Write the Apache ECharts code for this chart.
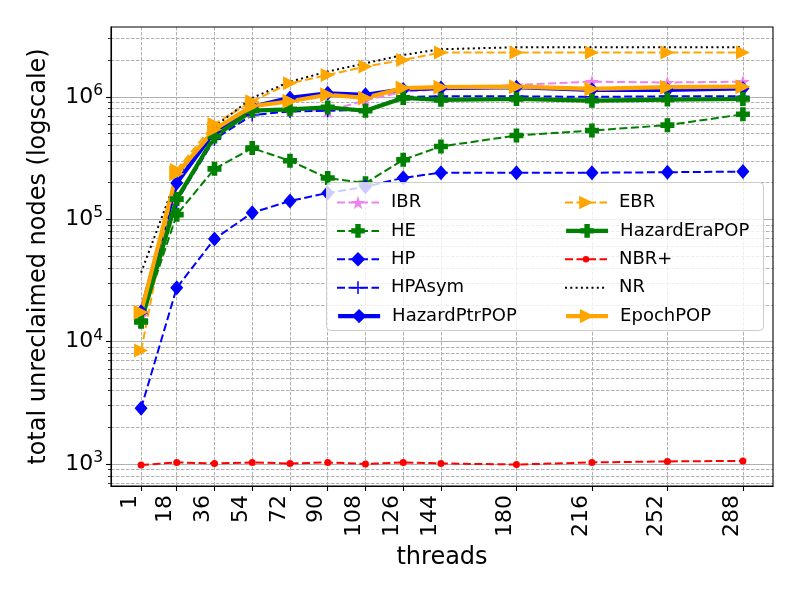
<!DOCTYPE html>
<html>
<head>
<meta charset="utf-8">
<script src="https://cdn.jsdelivr.net/npm/echarts@6/dist/echarts.min.js"></script>
<style>
  html, body { margin: 0; padding: 0; background: #fff; }
  #chart { width: 800px; height: 600px; }
</style>
</head>
<body>
<div id="chart"></div>
<script>
// thread counts on the x axis
const threads = [1, 18, 36, 54, 72, 90, 108, 126, 144, 180, 216, 252, 288];
const xTicks = [1, 18, 36, 54, 72, 90, 108, 126, 144, 180, 216, 252, 288];
const yTicks = [1e3, 1e4, 1e5, 1e6];

// total unreclaimed nodes
const ibr = [16000, 150000, 490000, 750000, 800000, 760000, 940000, 1100000, 1150000, 1250000, 1330000, 1310000, 1330000];
const he = [14700, 109000, 258000, 381000, 300000, 217000, 197000, 306000, 393000, 483000, 530000, 587000, 720000];
const hp = [2850, 27500, 69000, 113000, 141000, 164000, 184000, 218000, 240000, 240000, 240000, 242000, 245000];
const hpAsym = [17000, 140000, 450000, 710000, 760000, 770000, 780000, 1000000, 1010000, 1010000, 1000000, 1010000, 1010000];
const hazardPtrPop = [17500, 198000, 520000, 830000, 980000, 1070000, 1040000, 1150000, 1180000, 1200000, 1140000, 1140000, 1170000];
const ebr = [8450, 253000, 600000, 920000, 1290000, 1510000, 1770000, 2000000, 2300000, 2300000, 2300000, 2300000, 2300000];
const hazardEraPop = [14500, 146000, 474000, 770000, 790000, 820000, 770000, 980000, 945000, 960000, 930000, 950000, 960000];
const nbrPlus = [980, 1030, 1010, 1030, 1010, 1030, 1000, 1030, 1010, 990, 1030, 1050, 1060];
const nr = [36600, 220000, 570000, 980000, 1330000, 1610000, 1880000, 2200000, 2450000, 2540000, 2540000, 2540000, 2540000];
const epochPop = [17400, 235000, 540000, 840000, 920000, 1040000, 980000, 1180000, 1200000, 1210000, 1160000, 1200000, 1210000];

// legend columns, in matplotlib's column-first order
const legendCol1 = ['IBR', 'HE', 'HP', 'HPAsym', 'HazardPtrPOP'];
const legendCol2 = ['EBR', 'HazardEraPOP', 'NBR+', 'NR', 'EpochPOP'];

const STAR = 'path://M50,0L61.2,34.6L97.6,34.5L68.1,55.9L79.4,90.5L50,69L20.6,90.5L31.9,55.9L2.4,34.5L38.8,34.6Z';
const FAT_PLUS = 'path://M3,0H7V3H10V7H7V10H3V7H0V3H3Z';
const THIN_PLUS = 'path://M4.4,0H5.6V4.4H10V5.6H5.6V10H4.4V5.6H0V4.4H4.4Z';

const pairs = (ys) => threads.map((t, i) => [t, ys[i]]);

// minor log ticks between the decades
const minorTicks = [];
for (let d = 100; d <= 1e6; d *= 10) {
  for (let k = 2; k <= 9; k++) {
    if (d * k > 661 && d * k < 3.72e6) minorTicks.push(d * k);
  }
}

const THICK = ['HazardPtrPOP', 'HazardEraPOP', 'EpochPOP'];

const mkSeries = (name, ys, color, opts) => Object.assign({
  name,
  type: 'line',
  data: pairs(ys),
  itemStyle: { color },
  lineStyle: { color, width: 2, type: [8, 3.5] },
  symbolKeepAspect: true,
  showSymbol: true,
  animation: false,
  emphasis: { disabled: true },
}, opts);

const series = [
  mkSeries('IBR', ibr, '#ee82ee', { symbol: STAR, symbolSize: 14 }),
  mkSeries('HE', he, '#008000', { symbol: FAT_PLUS, symbolSize: 14 }),
  mkSeries('HP', hp, '#0000ff', { symbol: 'diamond', symbolSize: [13, 15] }),
  mkSeries('HPAsym', hpAsym, '#0000ff', { symbol: THIN_PLUS, symbolSize: 13 }),
  mkSeries('HazardPtrPOP', hazardPtrPop, '#0000ff', {
    symbol: 'diamond', symbolSize: [13, 15], lineStyle: { color: '#0000ff', width: 4.2, type: 'solid' },
  }),
  mkSeries('EBR', ebr, '#ffa500', { symbol: 'triangle', symbolRotate: -90, symbolSize: 14 }),
  mkSeries('HazardEraPOP', hazardEraPop, '#008000', {
    symbol: FAT_PLUS, symbolSize: 14, lineStyle: { color: '#008000', width: 4.2, type: 'solid' },
  }),
  mkSeries('NBR+', nbrPlus, '#ff0000', { symbol: 'circle', symbolSize: 7 }),
  mkSeries('NR', nr, '#000000', { symbol: 'none', lineStyle: { color: '#000', width: 2, type: [2, 3.3] } }),
  mkSeries('EpochPOP', epochPop, '#ffa500', {
    symbol: 'triangle', symbolRotate: -90, symbolSize: 15, lineStyle: { color: '#ffa500', width: 4.2, type: 'solid' },
  }),
];

// legend icon height per entry (marker is drawn at 80% of it)
const legendIconSize = {
  IBR: 17, HE: 17, HP: 18, HPAsym: 16, HazardPtrPOP: 18,
  EBR: 17, HazardEraPOP: 17, 'NBR+': 8, NR: 14, EpochPOP: 18,
};

const makeLegend = (name, col, row) => {
  const item = { name };
  if (name === 'NR') item.itemStyle = { color: 'rgba(0,0,0,0)', borderColor: 'rgba(0,0,0,0)' };
  if (THICK.includes(name)) item.lineStyle = { width: 4.2 };
  return {
    orient: 'horizontal',
    left: col === 0 ? 331 : 559,
    top: 197.5 + row * 28.4 - 9,
    itemWidth: 42,
    itemHeight: legendIconSize[name],
    z: 20,
    selectedMode: false,
    data: [item],
    textStyle: { fontFamily: 'DejaVu Sans', fontSize: 18, color: '#000', lineHeight: 18, padding: [0, 0, 0, 7] },
  };
};

const legends = legendCol1.map((n, i) => makeLegend(n, 0, i))
  .concat(legendCol2.map((n, i) => makeLegend(n, 1, i)));

const yBase = { type: 'log', logBase: 10, min: 661, max: 3.72e6 };

const chart = echarts.init(document.getElementById('chart'), null, { renderer: 'canvas' });
chart.setOption({
  animation: false,
  backgroundColor: '#fff',
  grid: {
    left: 111, right: 27, top: 27, bottom: 114,
    show: true, borderColor: '#000', borderWidth: 1.1, backgroundColor: 'transparent', z: 3,
  },
  legend: legends,
  graphic: [{
    type: 'rect',
    z: 19,
    shape: { x: 326.5, y: 182.5, width: 437, height: 148, r: 4 },
    style: { fill: 'rgba(255,255,255,0.8)', stroke: '#cccccc', lineWidth: 1 },
  }],
  xAxis: {
    type: 'value',
    min: -13.35,
    max: 302.35,
    name: 'threads',
    nameLocation: 'middle',
    nameGap: 60,
    nameTextStyle: { fontFamily: 'DejaVu Sans', fontSize: 24, color: '#000' },
    axisLine: { onZero: false, lineStyle: { color: '#000', width: 1.1 } },
    axisTick: { customValues: xTicks, length: 5, lineStyle: { color: '#000', width: 1.1 } },
    axisLabel: {
      customValues: xTicks,
      rotate: 90,
      margin: 9,
      verticalAlign: 'bottom',
      fontFamily: 'DejaVu Sans',
      fontSize: 22,
      color: '#000',
    },
    splitLine: { show: true, lineStyle: { color: '#b0b0b0', width: 1, type: [3.5, 1.5] } },
  },
  yAxis: [
    Object.assign({
      name: 'total unreclaimed nodes (logscale)',
      nameLocation: 'middle',
      nameGap: 60,
      nameTextStyle: { fontFamily: 'DejaVu Sans', fontSize: 24, color: '#000' },
      axisLine: { show: true, onZero: false, lineStyle: { color: '#000', width: 1.1 } },
      axisTick: { customValues: yTicks, length: 5, lineStyle: { color: '#000', width: 1.1 } },
      axisLabel: {
        customValues: yTicks,
        margin: 8,
        color: '#000',
        formatter: (v) => '{b|10}{s|' + Math.round(Math.log10(v)) + '}',
        rich: {
          b: { fontFamily: 'DejaVu Sans', fontSize: 22, color: '#000' },
          s: { fontFamily: 'DejaVu Sans', fontSize: 15.5, color: '#000', verticalAlign: 'top', padding: [0, 0, 12, 0] },
        },
      },
      splitLine: { show: true, lineStyle: { color: '#b0b0b0', width: 1, type: 'solid' } },
    }, yBase),
    // same scale again, only for the minor ticks and dashed minor grid
    Object.assign({
      position: 'left',
      offset: 0,
      axisLine: { show: false, onZero: false },
      axisTick: { customValues: minorTicks, length: 3, lineStyle: { color: '#000', width: 0.8 } },
      axisLabel: { show: false, customValues: minorTicks },
      splitLine: { show: true, lineStyle: { color: '#b0b0b0', width: 1, type: [3.5, 1.5] } },
    }, yBase),
  ],
  series,
});
</script>
</body>
</html>
